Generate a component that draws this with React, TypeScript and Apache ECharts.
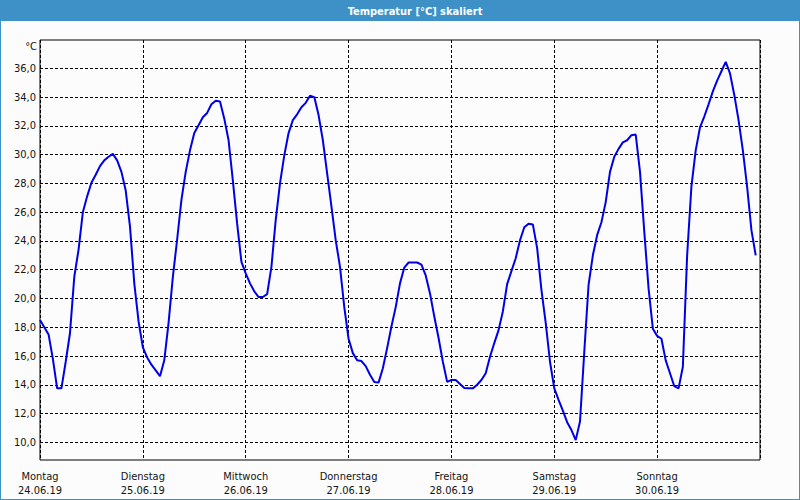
import React, { useEffect, useRef } from "react";
import * as echarts from "echarts";

const title = "Temperatur [°C] skaliert";
const unit = "°C";
const dayNames = ["Montag", "Dienstag", "Mittwoch", "Donnerstag", "Freitag", "Samstag", "Sonntag"];
const dates = ["24.06.19", "25.06.19", "26.06.19", "27.06.19", "28.06.19", "29.06.19", "30.06.19"];
const yTicks = [10, 12, 14, 16, 18, 20, 22, 24, 26, 28, 30, 32, 34, 36];

// hourly temperatures (°C), one array per day
const mon = [18.5, 18.0, 17.5, 15.8, 13.75, 13.75, 15.6, 17.6, 21.5, 23.4, 26.0, 27.1, 28.05, 28.6, 29.2, 29.6, 29.85, 30.05, 29.6, 28.8, 27.5, 25.0, 21.05, 18.4];
const tue = [16.6, 15.9, 15.4, 15.0, 14.6, 15.7, 18.3, 21.5, 24.1, 26.85, 28.8, 30.3, 31.5, 32.05, 32.6, 32.9, 33.5, 33.75, 33.7, 32.5, 31.0, 28.2, 25.2, 22.55];
const wed = [21.75, 21.05, 20.5, 20.1, 20.1, 20.3, 22.2, 25.45, 28.0, 29.95, 31.5, 32.4, 32.8, 33.3, 33.6, 34.1, 34.0, 32.75, 31.0, 28.7, 26.4, 24.05, 22.2, 19.4];
const thu = [17.2, 16.2, 15.7, 15.65, 15.3, 14.7, 14.2, 14.15, 15.15, 16.55, 18.05, 19.4, 21.05, 22.15, 22.5, 22.5, 22.5, 22.35, 21.6, 20.35, 18.75, 17.25, 15.6, 14.2];
const fri = [14.33, 14.33, 14.05, 13.77, 13.75, 13.75, 14.0, 14.33, 14.8, 15.95, 16.9, 17.8, 19.1, 21.0, 21.9, 22.8, 24.05, 24.95, 25.2, 25.15, 23.5, 20.6, 18.3, 15.6];
const sat = [13.75, 12.95, 12.2, 11.4, 10.85, 10.15, 11.45, 16.3, 20.95, 23.0, 24.4, 25.3, 26.7, 28.8, 29.85, 30.4, 30.85, 31.0, 31.35, 31.4, 28.8, 24.65, 20.7, 17.9];
const sun = [17.4, 17.2, 15.7, 14.8, 13.9, 13.75, 15.25, 23.0, 27.8, 30.3, 31.9, 32.65, 33.5, 34.4, 35.15, 35.8, 36.45, 35.65, 34.15, 32.4, 30.3, 27.75, 24.75, 23.0];

const temps = [...mon, ...tue, ...wed, ...thu, ...fri, ...sat, ...sun];

const FONT = '"DejaVu Sans Condensed", "DejaVu Sans", sans-serif';

export default function App() {
  const ref = useRef<HTMLDivElement>(null);
  useEffect(() => {
    document.body.style.margin = "0";
    const chart = echarts.init(ref.current!, null, { renderer: "svg" });
    const data = temps.map((v, i) => [i, v]);
    chart.setOption({
      animation: false,
      backgroundColor: "#fbfcfb",
      textStyle: { fontFamily: FONT },
      grid: {
        left: 40,
        right: 40,
        top: 40,
        bottom: 40,
        show: true,
        borderColor: "#000",
        borderWidth: 1,
        backgroundColor: "transparent",
      },
      xAxis: {
        type: "value",
        min: 0,
        max: 168,
        interval: 24,
        axisLine: { show: false },
        axisTick: { show: false },
        splitLine: { show: true, lineStyle: { color: "#000", type: [3, 2], width: 1 } },
        axisLabel: {
          margin: 9,
          color: "#141414",
          fontSize: 11,
          fontFamily: FONT,
          lineHeight: 14,
          showMaxLabel: true,
          showMinLabel: true,
          formatter: (v: number) => {
            const i = Math.round(v / 24);
            if (i >= dayNames.length) return "";
            return dayNames[i] + "\n" + dates[i];
          },
        },
      },
      yAxis: {
        type: "value",
        min: 8.77,
        max: 37.97,
        axisLine: { show: false },
        axisTick: { show: false, customValues: yTicks },
        splitLine: { show: true, lineStyle: { color: "#000", type: [3, 2], width: 1 } },
        axisLabel: {
          customValues: yTicks,
          margin: 4,
          color: "#141414",
          fontSize: 11,
          fontFamily: FONT,
          formatter: (v: number) => v.toFixed(1).replace(".", ","),
        },
      },
      graphic: [
        { type: "rect", shape: { x: 0, y: 0, width: 800, height: 21 }, style: { fill: "#3d91c6" }, silent: true },
        {
          type: "text",
          x: 415,
          y: 11,
          style: {
            text: title,
            fill: "#ffffff",
            font: `bold 11px ${FONT}`,
            textAlign: "center",
            textVerticalAlign: "middle",
          },
          silent: true,
        },
        {
          type: "text",
          x: 37,
          y: 46,
          style: {
            text: unit,
            fill: "#141414",
            font: `11px ${FONT}`,
            textAlign: "right",
            textVerticalAlign: "middle",
          },
          silent: true,
        },
        { type: "rect", shape: { x: 0, y: 21, width: 1, height: 479 }, style: { fill: "#3d91c6" }, silent: true },
        { type: "rect", shape: { x: 799, y: 21, width: 1, height: 479 }, style: { fill: "#3d91c6" }, silent: true },
        { type: "rect", shape: { x: 0, y: 499, width: 800, height: 1 }, style: { fill: "#3d91c6" }, silent: true },
      ],
      series: [
        {
          type: "line",
          data,
          showSymbol: false,
          symbol: "none",
          smooth: false,
          lineStyle: { color: "#0000e8", width: 2 },
          silent: true,
        },
      ],
    });
    return () => chart.dispose();
  }, []);
  return <div ref={ref} style={{ width: 800, height: 500 }} />;
}
